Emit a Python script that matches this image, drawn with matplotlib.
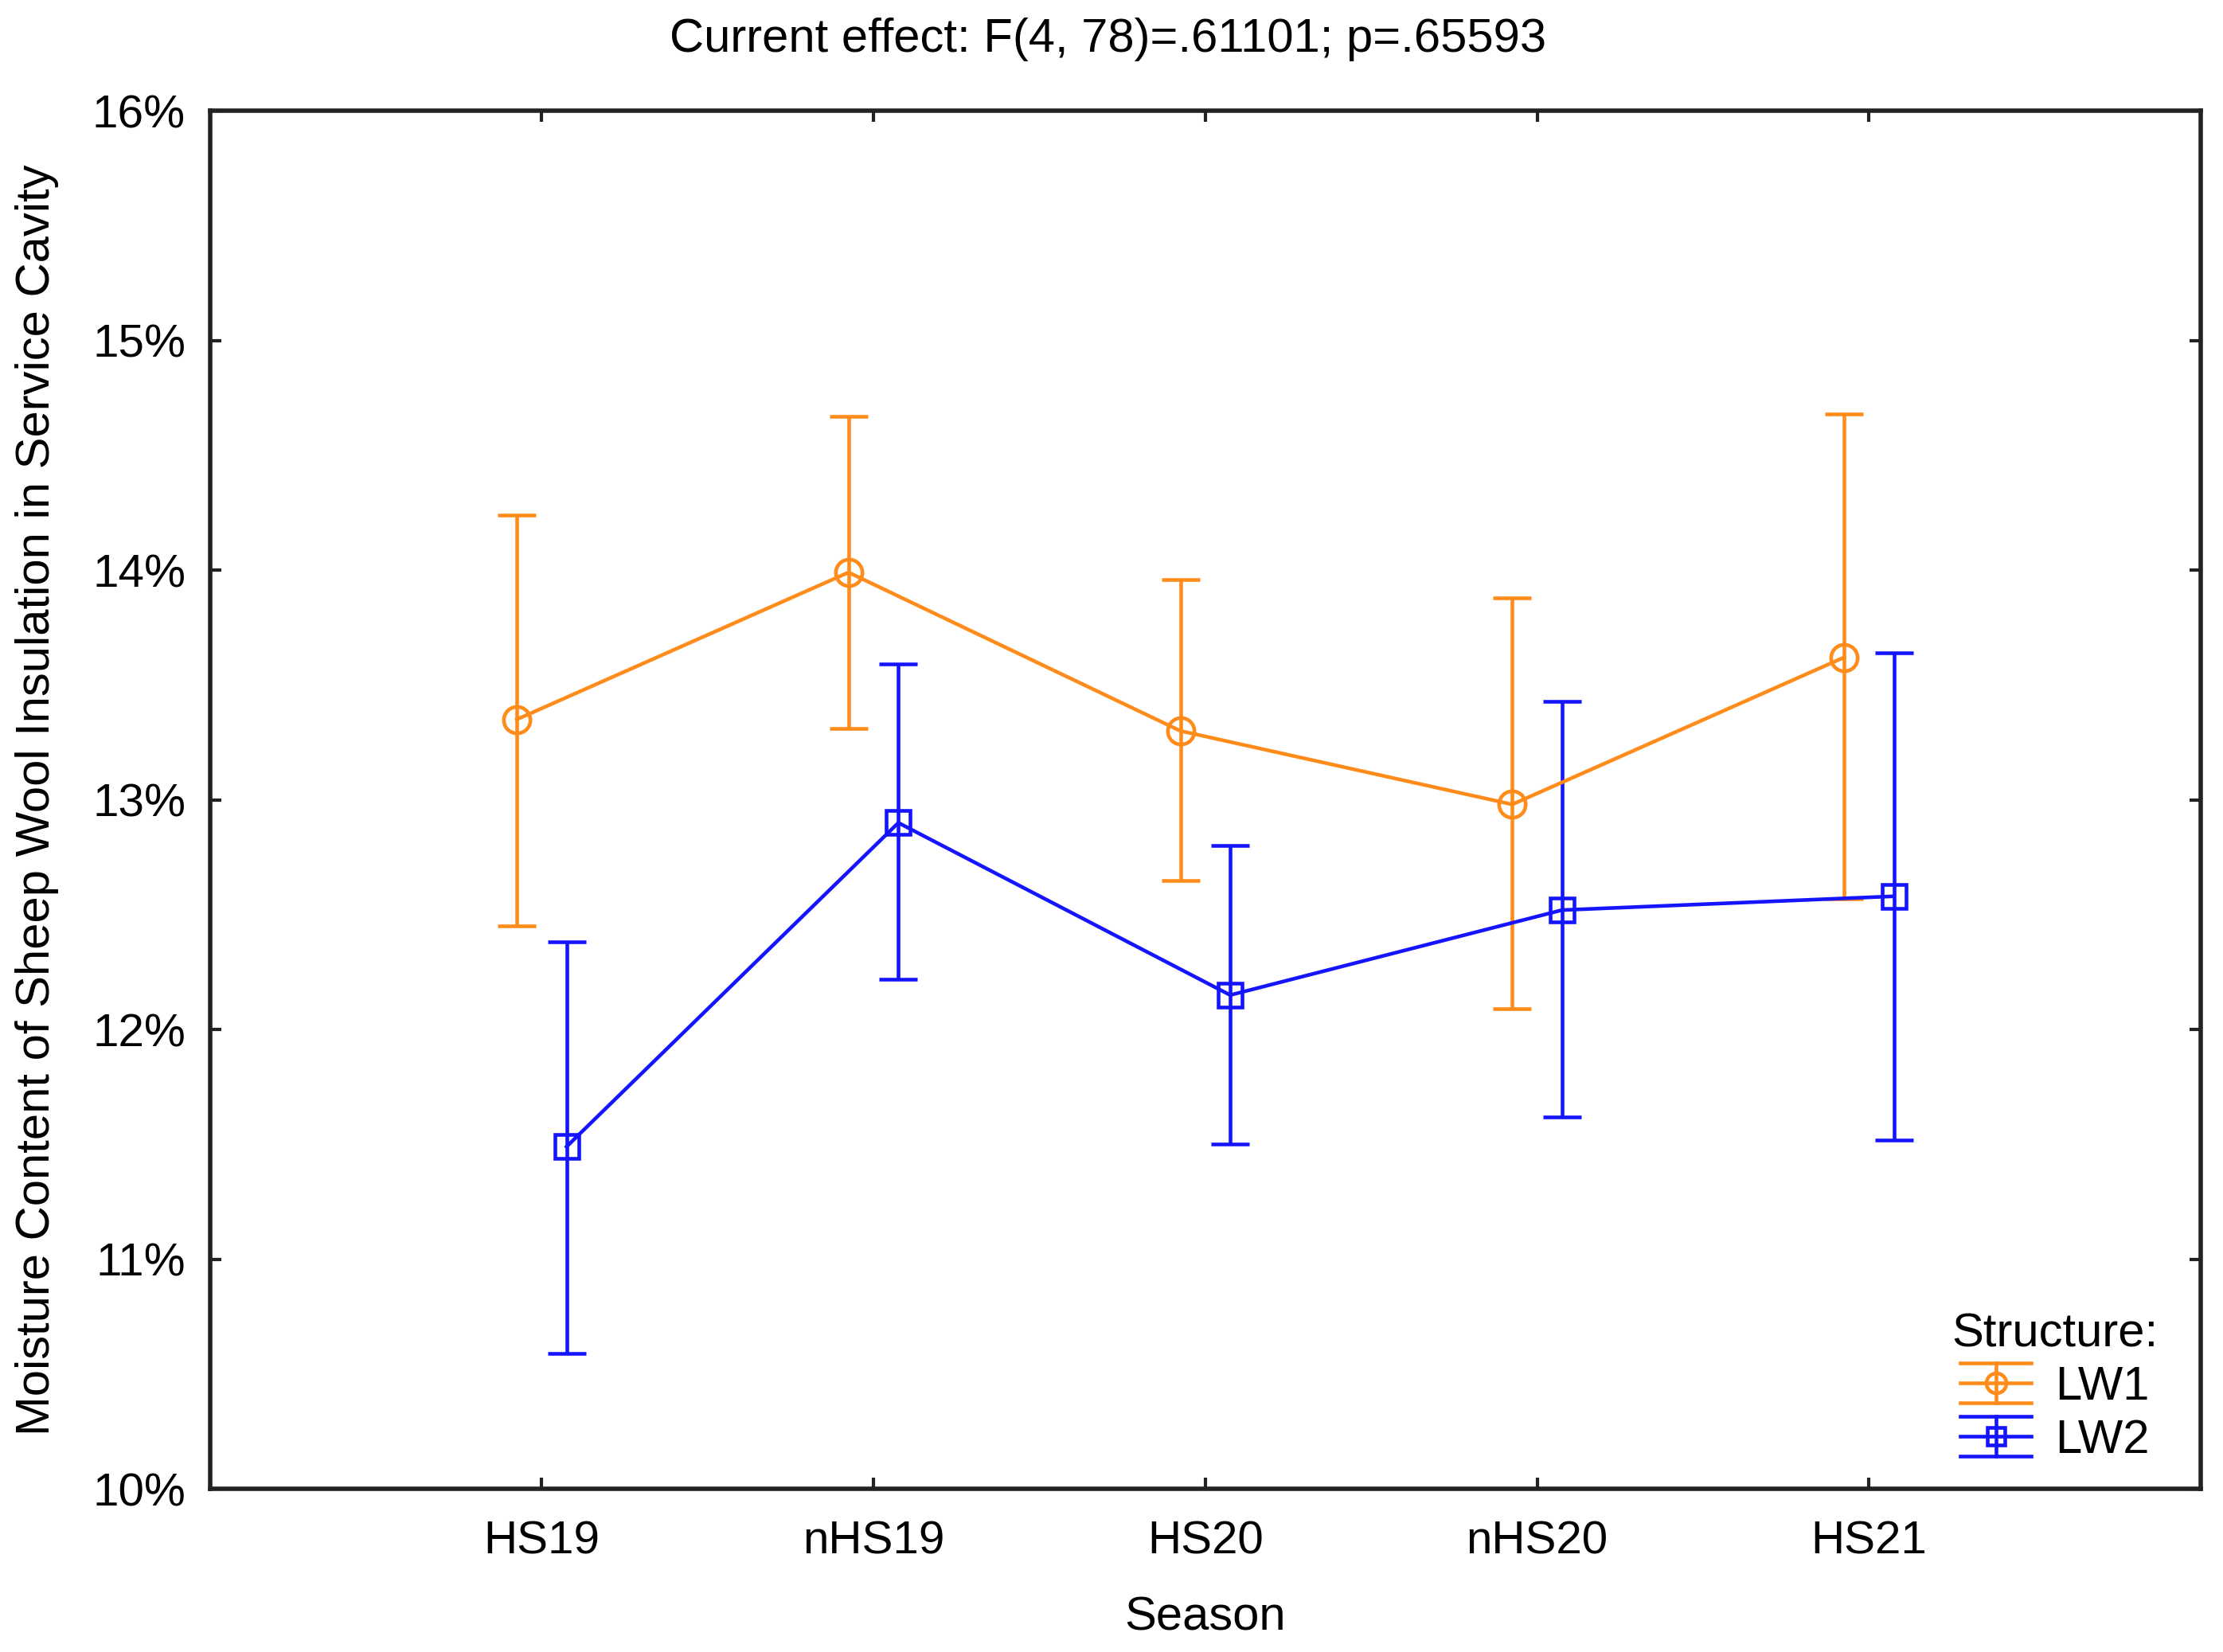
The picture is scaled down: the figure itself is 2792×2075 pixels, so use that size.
import matplotlib
matplotlib.use("Agg")
import matplotlib.pyplot as plt
from matplotlib.ticker import FuncFormatter
from matplotlib.legend_handler import HandlerBase
from matplotlib.lines import Line2D
import numpy as np

seasons = ["HS19", "nHS19", "HS20", "nHS20", "HS21"]
lw1_mean = [13.35, 13.99, 13.30, 12.98, 13.62]
lw1_upper = [14.24, 14.67, 13.96, 13.88, 14.68]
lw1_lower = [12.45, 13.31, 12.65, 12.09, 12.57]
lw2_mean = [11.49, 12.90, 12.15, 12.52, 12.58]
lw2_upper = [12.38, 13.59, 12.80, 13.43, 13.64]
lw2_lower = [10.59, 12.22, 11.50, 11.62, 11.52]
yticks = [10, 11, 12, 13, 14, 15, 16]

plt.rcParams['font.family'] = ['Liberation Sans', 'DejaVu Sans']

fig = plt.figure(figsize=(27.92, 20.75), dpi=100)
ax = fig.add_axes([0.0944, 0.0987, 0.8956, 0.8343])

x = np.arange(1, len(seasons) + 1)
off = 0.075
orange = '#ff8c1a'
blue = '#1414ff'
LW = 3.3

series = [
    (lw1_mean, lw1_upper, lw1_lower, orange, 'o', 24, 'LW1', -off),
    (lw2_mean, lw2_upper, lw2_lower, blue, 's', 21, 'LW2', off)]

proxies = []
for mean, up, lo, col, mk, ms, lab, dx in series:
    m = np.array(mean)
    err = np.array([m - np.array(lo), np.array(up) - m])
    ax.errorbar(x + dx, m, yerr=err, color=col, ecolor=col, lw=LW,
                elinewidth=LW, capsize=17, capthick=LW, marker=mk,
                markersize=ms, markerfacecolor='none',
                markeredgewidth=LW)
    proxies.append(Line2D([], [], color=col, marker=mk, markersize=ms * 0.75,
                          markerfacecolor='none', markeredgewidth=LW, lw=LW,
                          label=lab))


class ErrHandler(HandlerBase):
    def create_artists(self, legend, orig, xdescent, ydescent, width, height,
                       fontsize, trans):
        col = orig.get_color()
        cy = height / 2 - ydescent
        x0, x1 = -xdescent, -xdescent + width
        xm = (x0 + x1) / 2
        h = 18
        arts = []
        for yy in (cy - h, cy, cy + h):
            arts.append(Line2D([x0, x1], [yy, yy], color=col, lw=LW, transform=trans))
        arts.append(Line2D([xm, xm], [cy - h, cy + h], color=col, lw=LW, transform=trans))
        arts.append(Line2D([xm], [cy], color=col, marker=orig.get_marker(),
                           markersize=orig.get_markersize(), markerfacecolor='none',
                           markeredgewidth=LW, lw=0, transform=trans))
        return arts


ax.set_xlim(0, 6)
ax.set_ylim(10, 16)
ax.set_xticks(x)
ax.set_xticklabels(seasons)
ax.set_yticks(yticks)
ax.yaxis.set_major_formatter(FuncFormatter(lambda v, p: f"{v:.0f}%"))
ax.tick_params(direction='in', length=10, width=3, top=True, right=True,
               labelsize=42, colors='#222222', labelcolor='black')
ax.tick_params(axis='x', pad=28)
ax.tick_params(axis='y', pad=22)
for s in ax.spines.values():
    s.set_linewidth(4)
    s.set_color('#222222')

ax.set_xlabel("Season", fontsize=43, labelpad=30)
ax.set_ylabel("Moisture Content of Sheep Wool Insulation in Service Cavity",
              fontsize=43, labelpad=30)
fig.text(0.4985, 0.976, "Current effect: F(4, 78)=.61101; p=.65593",
         fontsize=43, ha='center', va='center')

leg = ax.legend(handles=proxies, title="Structure:", loc='lower right',
                frameon=False, fontsize=43, title_fontsize=43,
                handlelength=1.5, handletextpad=0.5, labelspacing=0.2,
                handler_map={Line2D: ErrHandler()},
                bbox_to_anchor=(1.0, -0.012))

fig.savefig("out.png", dpi=100)
